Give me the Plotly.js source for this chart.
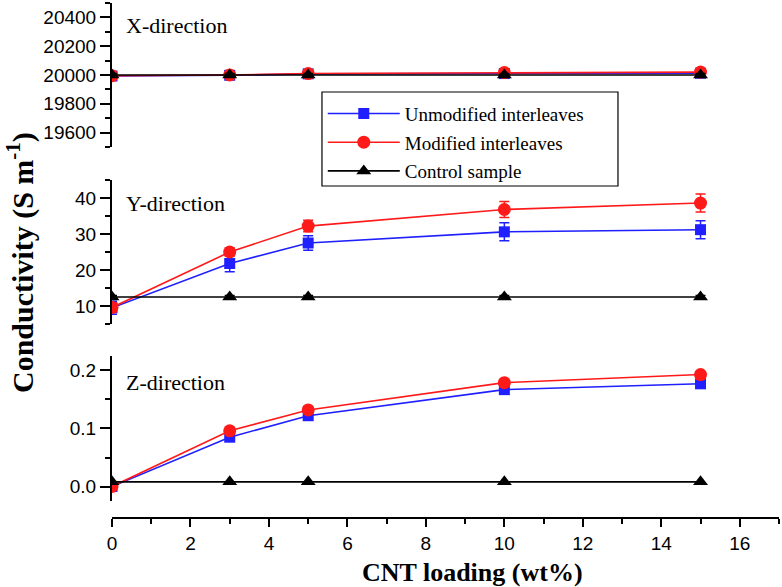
<!DOCTYPE html>
<html>
<head>
<meta charset="utf-8">
<script src="https://cdn.plot.ly/plotly-3.0.1.min.js"></script>
<style>html,body{margin:0;padding:0;background:#fff;}#chart{width:782px;height:587px;}</style>
</head>
<body>
<div id="chart"></div>
<script>
// CNT loading (wt%)
const loading = [0, 3, 5, 10, 15];

// X-direction conductivity (S/m)
const xUnmod = [19993, 19998, 20008, 20010, 20012];
const xMod = [19995, 20000, 20010, 20017, 20020];
const xCtrl = [20000, 20000, 20000, 20000, 20000];
const xUnmodErr = [8, 8, 8, 8, 8];
const xModErr = [8, 8, 8, 10, 10];
const xCtrlErr = [10, 10, 10, 10, 10];

// Y-direction conductivity (S/m)
const yUnmod = [9.5, 21.8, 27.5, 30.6, 31.2];
const yMod = [9.6, 25.0, 32.2, 36.8, 38.6];
const yCtrl = [12.5, 12.5, 12.5, 12.5, 12.5];
const yUnmodErr = [1.8, 2.3, 2.0, 2.5, 2.5];
const yModErr = [1.2, 1.2, 1.6, 2.2, 2.5];
const yCtrlErr = [0.4, 0.4, 0.4, 0.4, 0.4];

// Z-direction conductivity (S/m)
const zUnmod = [0.0, 0.085, 0.122, 0.167, 0.177];
const zMod = [0.0, 0.096, 0.132, 0.179, 0.193];
const zCtrl = [0.008, 0.008, 0.008, 0.008, 0.008];

const seriesNames = ['Unmodified interleaves', 'Modified interleaves', 'Control sample'];
const panelLabels = ['X-direction', 'Y-direction', 'Z-direction'];

const styles = [
  {color: '#1f1fff', symbol: 'square', size: 11},
  {color: '#ff1a1a', symbol: 'circle', size: 13},
  {color: '#000000', symbol: 'triangle-up', size: 13}
];

function mk(i, y, err, yaxis, show) {
  const s = styles[i];
  const t = {
    x: loading, y: y, type: 'scatter', mode: 'lines+markers',
    name: seriesNames[i], legendgroup: 'g' + i, showlegend: show,
    xaxis: 'x', yaxis: yaxis,
    line: {color: s.color, width: 1.6},
    marker: {color: s.color, symbol: s.symbol, size: s.size}
  };
  if (err) t.error_y = {type: 'data', array: err, visible: true, color: s.color, thickness: 1.5, width: 5};
  return t;
}

const data = [
  mk(0, xUnmod, xUnmodErr, 'y', false),
  mk(1, xMod, xModErr, 'y', false),
  mk(2, xCtrl, xCtrlErr, 'y', false),
  mk(0, yUnmod, yUnmodErr, 'y2', true),
  mk(1, yMod, yModErr, 'y2', true),
  mk(2, yCtrl, yCtrlErr, 'y2', true),
  mk(0, zUnmod, null, 'y3', false),
  mk(1, zMod, null, 'y3', false),
  mk(2, zCtrl, null, 'y3', false)
];

const tickFont = {family: 'Liberation Sans, Arial, sans-serif', size: 19, color: '#000'};
function yax(domain, range, dtick, minorDtick, fmt) {
  return {
    domain: domain, range: range, anchor: 'x',
    showline: true, linecolor: '#000', linewidth: 2,
    showgrid: false, zeroline: false,
    ticks: 'outside', ticklen: 10, tickwidth: 2, tickcolor: '#000',
    dtick: dtick, tick0: 0, tickformat: fmt,
    minor: {dtick: minorDtick, ticks: 'outside', ticklen: 5, tickwidth: 2, tickcolor: '#000', showgrid: false},
    tickfont: tickFont
  };
}

const serif = 'Liberation Serif, Times New Roman, serif';

const layout = {
  width: 782, height: 587,
  margin: {l: 112, r: 3, t: 3, b: 69},
  paper_bgcolor: '#fff', plot_bgcolor: 'rgba(0,0,0,0)',
  showlegend: true,
  legend: {
    x: 0.316, y: 0.822, xanchor: 'left', yanchor: 'top',
    borderwidth: 0, bgcolor: 'rgba(255,255,255,0)',
    font: {family: serif, size: 19, color: '#000'},
    tracegroupgap: 1, itemwidth: 72
  },
  xaxis: {
    domain: [0, 1], range: [0, 17], anchor: 'free', position: 0,
    showline: true, linecolor: '#000', linewidth: 2,
    showgrid: false, zeroline: false,
    ticks: 'outside', ticklen: 8, tickwidth: 2, tickcolor: '#000',
    dtick: 2, tick0: 0,
    minor: {dtick: 1, ticks: 'outside', ticklen: 5, tickwidth: 2, tickcolor: '#000', showgrid: false},
    tickfont: tickFont
  },
  yaxis: yax([0.7204, 1.0], [19500, 20500], 200, 100, 'd'),
  yaxis2: yax([0.3767, 0.6563], [5, 45], 10, 5, 'd'),
  yaxis3: yax([0.033, 0.3146], [-0.025, 0.225], 0.1, 0.05, '.1f'),
  shapes: [
    {type: 'rect', xref: 'paper', yref: 'paper', x0: 0.3148, x1: 0.7586, y0: 0.6447, y1: 0.8272,
     line: {color: '#000', width: 1.2}, fillcolor: 'rgba(0,0,0,0)'}
  ],
  annotations: [
    {text: panelLabels[0], xref: 'paper', yref: 'paper', x: 0.018, y: 0.956, xanchor: 'left', yanchor: 'middle', showarrow: false,
     font: {family: serif, size: 22, color: '#000'}},
    {text: panelLabels[1], xref: 'paper', yref: 'paper', x: 0.018, y: 0.61, xanchor: 'left', yanchor: 'middle', showarrow: false,
     font: {family: serif, size: 22, color: '#000'}},
    {text: panelLabels[2], xref: 'paper', yref: 'paper', x: 0.018, y: 0.264, xanchor: 'left', yanchor: 'middle', showarrow: false,
     font: {family: serif, size: 22, color: '#000'}},
    {text: '<b>Conductivity (S m<sup>-1</sup>)</b>', xref: 'paper', yref: 'paper', x: -0.138, y: 0.497, xanchor: 'center', yanchor: 'middle',
     textangle: -90, showarrow: false,
     font: {family: serif, size: 30, color: '#000'}},
    {text: '<b>CNT loading (wt%)</b>', xref: 'paper', yref: 'paper', x: 0.54, y: -0.105, xanchor: 'center', yanchor: 'middle',
     showarrow: false,
     font: {family: serif, size: 26, color: '#000'}}
  ]
};

Plotly.newPlot('chart', data, layout, {displayModeBar: false, staticPlot: true});
</script>
</body>
</html>
